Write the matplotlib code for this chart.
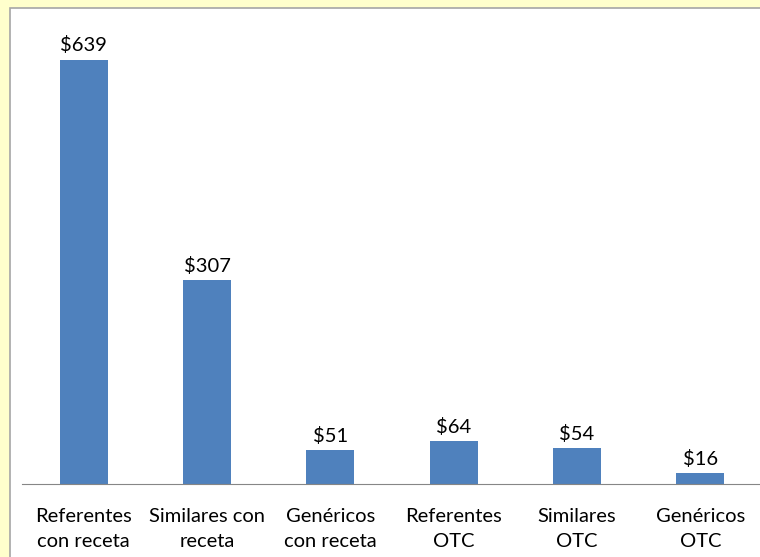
import numpy as np
import matplotlib.pyplot as plt
from matplotlib.patches import Rectangle

categorias = ["Referentes\ncon receta", "Similares con\nreceta", "Genéricos\ncon receta",
              "Referentes\nOTC", "Similares\nOTC", "Genéricos\nOTC"]
gasto = [639, 307, 51, 64, 54, 16]
etiquetas = ["$639", "$307", "$51", "$64", "$54", "$16"]

plt.rcParams['font.family'] = ['Lato', 'DejaVu Sans']

fig = plt.figure(figsize=(7.6, 5.57), dpi=100)
fig.patch.set_facecolor('#FFFFCC')

# white chart panel with grey border
panel = Rectangle((10/760, -0.01), 1.0, 1.01 - 8/557, transform=fig.transFigure,
                  facecolor='white', edgecolor='#A6A6A6', linewidth=1.2, zorder=-5)
fig.patches.append(panel)

ax = fig.add_axes([22/760, 73/557, 740/760, 465/557])
ax.set_zorder(2)
ax.set_facecolor('none')

x = np.arange(len(gasto))
ax.bar(x, gasto, width=0.39, color='#4F81BD')
for xi, v, lab in zip(x, gasto, etiquetas):
    ax.annotate(lab, (xi, v), xytext=(0, 4), textcoords='offset points',
                ha='center', va='bottom', fontsize=14.5, color='black')

ax.set_xlim(-0.5, 5.5)
ax.set_ylim(0, 700)
ax.set_xticks(x)
ax.set_xticklabels(categorias, fontsize=14.5, linespacing=1.62)
ax.tick_params(axis='x', length=0, pad=17)
ax.set_yticks([])
for s in ['top', 'right', 'left']:
    ax.spines[s].set_visible(False)
ax.spines['bottom'].set_color('#868686')

fig.savefig('out.png', dpi=100, facecolor=fig.get_facecolor())
